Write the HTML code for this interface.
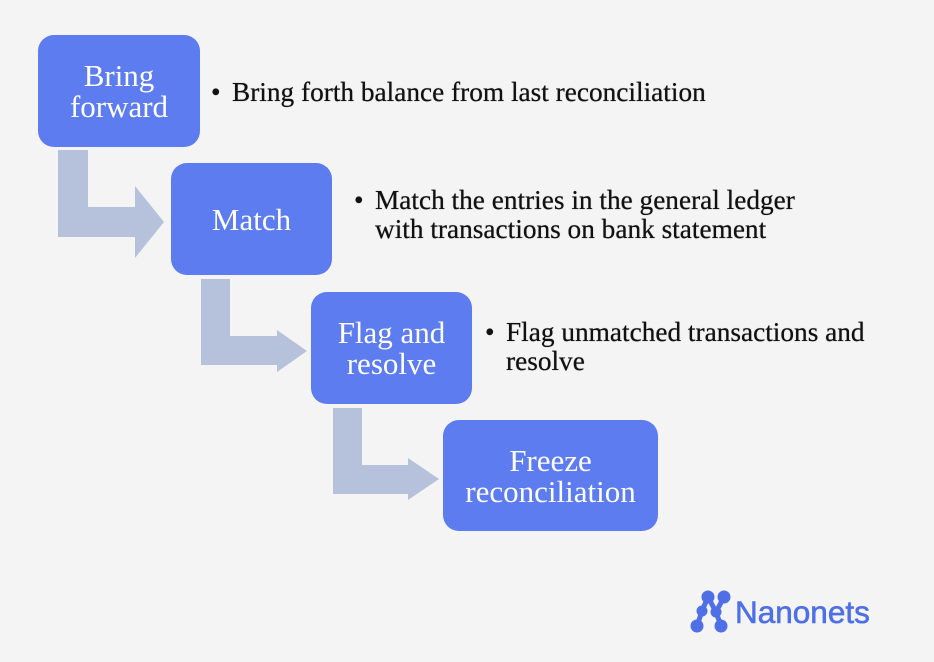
<!DOCTYPE html>
<html><head><style>
html,body{margin:0;padding:0;background:#f4f4f4;}
body{width:934px;height:662px;overflow:hidden;position:relative;font-family:"Liberation Serif",serif;}
.b{position:absolute;background:#5c7cf0;border-radius:16px;color:#fff;font-size:31px;line-height:31px;display:flex;align-items:center;justify-content:center;text-align:center;}
.t{position:absolute;color:#111;font-size:27.3px;line-height:29px;white-space:nowrap;text-shadow:0 0 0.6px #111;}
.t span{position:absolute;left:-21px;}
</style></head><body>
<svg width="934" height="662" style="position:absolute;left:0;top:0">
<g fill="#b6c1db">
<polygon points="58,150 88,150 88,207 135,207 135,186 164,222 135,258 135,237 58,237"/>
<polygon points="201,279 230,279 230,336 277,336 277,330 307,351 277,372 277,365 201,365"/>
<polygon points="333,408 362,408 362,465 408,465 408,458 439,479 408,500 408,494 333,494"/>
</g>
<g fill="#4f6fe6" stroke="#4f6fe6" stroke-width="5" stroke-linecap="round">
<polyline fill="none" points="697,626 702,611 708,597 716,612 721,626"/>
<polyline fill="none" points="716,612 724,597"/>
<circle cx="697" cy="626" r="4"/><circle cx="702" cy="611" r="3"/><circle cx="708" cy="597" r="4"/><circle cx="716" cy="612" r="3"/><circle cx="721" cy="626" r="4"/><circle cx="724" cy="597" r="4"/>
</g>
<text x="735" y="623" font-family="Liberation Sans, sans-serif" font-size="31.5" fill="#4f6fe6" stroke="#4f6fe6" stroke-width="0.6">Nanonets</text>
</svg>
<div class="b" style="left:38px;top:35px;width:162px;height:112px">Bring<br>forward</div>
<div class="b" style="left:171px;top:163px;width:161px;height:112px">Match</div>
<div class="b" style="left:311px;top:292px;width:161px;height:112px">Flag and<br>resolve</div>
<div class="b" style="left:443px;top:420px;width:215px;height:111px">Freeze<br>reconciliation</div>
<div class="t" style="left:232px;top:78px"><span>•</span>Bring forth balance from last reconciliation</div>
<div class="t" style="left:375px;top:186px"><span>•</span>Match the entries in the general ledger<br>with transactions on bank statement</div>
<div class="t" style="left:506px;top:318px"><span>•</span>Flag unmatched transactions and<br>resolve</div>
</body></html>
